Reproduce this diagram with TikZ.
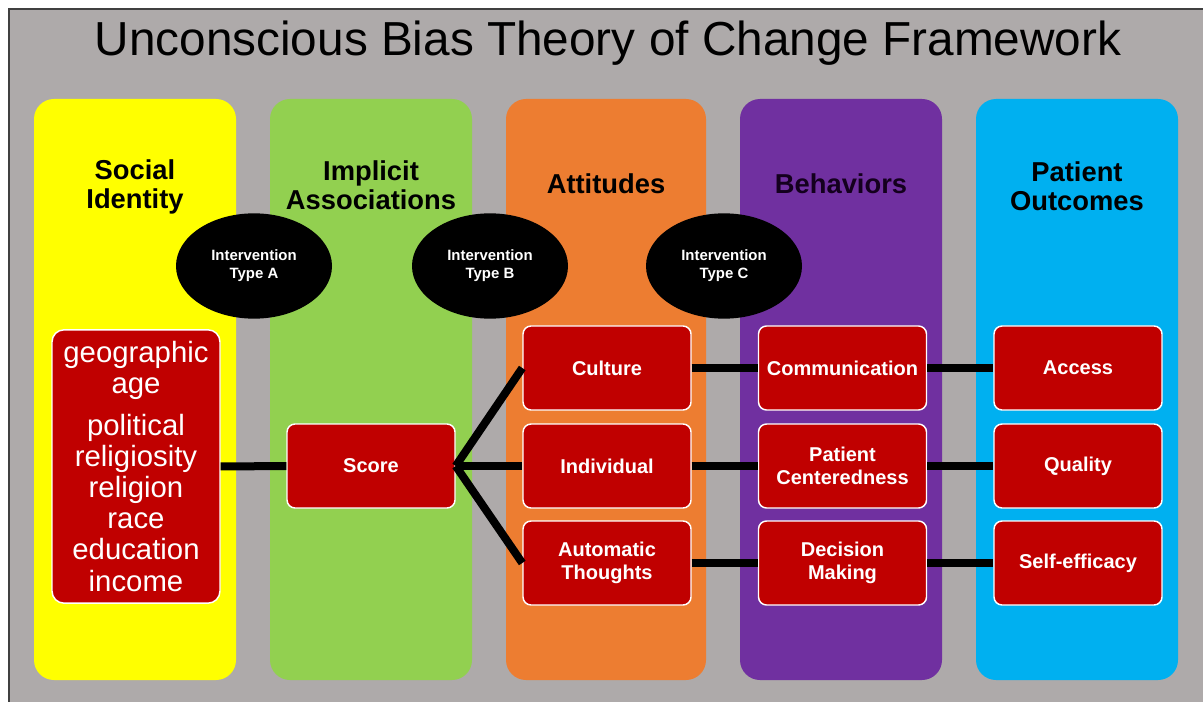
\documentclass[tikz,border=0pt]{standalone}
\usepackage{fontspec}
\setmainfont{Liberation Sans}
\usetikzlibrary{shapes.geometric}

\definecolor{panelgray}{RGB}{174,170,170}
\definecolor{identityyellow}{RGB}{255,255,0}
\definecolor{implicitgreen}{RGB}{146,208,80}
\definecolor{attitudeorange}{RGB}{237,125,49}
\definecolor{behaviorpurple}{RGB}{112,48,160}
\definecolor{outcomeblue}{RGB}{0,176,240}
\definecolor{factorred}{RGB}{192,0,0}

\tikzset{every picture/.style={line width=0.75pt}}
\tikzset{
	column/.style={rounded corners=15pt},
	heading/.style={font=\bfseries\fontsize{20.5}{22}\selectfont, align=center},
	factor/.style={draw=white, line width=1.1pt, fill=factorred, rounded corners=6pt, minimum width=126pt, minimum height=63pt, inner sep=0pt, text=white, align=center, font=\bfseries\fontsize{15}{17.5}\selectfont},
	intervention/.style={ellipse, fill=black, minimum width=117pt, minimum height=79pt, inner sep=0pt, text=white, align=center, font=\bfseries\fontsize{11.2}{13.5}\selectfont},
	link/.style={line width=6pt}
}

\begin{document}
\begin{tikzpicture}[x=0.75pt,y=0.75pt,yscale=-1,xscale=1]
	\useasboundingbox (0,0) rectangle (1203,702);

	%Shape: Rectangle [panel]
	\fill [panelgray] (9,9) rectangle (1203,702);
	\draw [color={rgb, 255:red, 64; green, 64; blue, 64 }, line width=1.2pt] (9,702) -- (9,9) -- (1203,9);

	%Shape: Rounded Rect [columns]
	\fill [column, identityyellow] (34,99) rectangle (236,680);
	\fill [column, implicitgreen] (270,99) rectangle (472,680);
	\fill [column, attitudeorange] (506,99) rectangle (706,680);
	\fill [column, behaviorpurple] (740,99) rectangle (942,680);
	\fill [column, outcomeblue] (976,99) rectangle (1178,680);

	% Text Node
	\node (title) at (608,43) {\fontsize{35.8}{40}\selectfont Unconscious Bias Theory of Change Framework};

	% Text Node
	\node [heading] (hidentity) at (135,187) {Social\\Identity};
	\node [heading] (himplicit) at (371,185) {Implicit\\Associations};
	\node [heading] (hattitudes) at (606,184) {Attitudes};
	\node [heading, text={rgb, 255:red, 20; green, 0; blue, 30 }] (hbehaviors) at (841,184) {Behaviors};
	\node [heading] (houtcomes) at (1077,186) {Patient\\Outcomes};

	%Shape: Ellipse
	\node [intervention] (typeA) at (254,266) {Intervention\\Type A};
	\node [intervention] (typeB) at (490,266) {Intervention\\Type B};
	\node [intervention] (typeC) at (724,266) {Intervention\\Type C};

	%Shape: Rounded Rect [identity list]
	\node [factor, minimum height=205pt, rounded corners=9pt, font=\fontsize{22}{23.3}\selectfont] (identity) at (136,466.5)
		{geographic\\age\\[8pt]political\\religiosity\\religion\\race\\education\\income};

	%Shape: Rounded Rect [factors]
	\node [factor] (score) at (371,466) {Score};

	\node [factor] (culture) at (607,368) {Culture};
	\node [factor] (individual) at (607,466) {Individual};
	\node [factor] (automatic) at (607,563) {Automatic\\Thoughts};

	\node [factor] (communication) at (842.5,368) {Communication};
	\node [factor] (centeredness) at (842.5,466) {Patient\\Centeredness};
	\node [factor] (decision) at (842.5,563) {Decision\\Making};

	\node [factor] (access) at (1078,368) {Access};
	\node [factor] (quality) at (1078,466) {Quality};
	\node [factor] (efficacy) at (1078,563) {Self-efficacy};

	%Straight Lines
	\draw [link] (identity) -- (score);
	\draw [link] (score.east) -- (culture.west);
	\draw [link] (score.east) -- (individual.west);
	\draw [link] (score.east) -- (automatic.west);

	\draw [link] (culture) -- (communication);
	\draw [link] (individual) -- (centeredness);
	\draw [link] (automatic) -- (decision);

	\draw [link] (communication) -- (access);
	\draw [link] (centeredness) -- (quality);
	\draw [link] (decision) -- (efficacy);

\end{tikzpicture}
\end{document}
